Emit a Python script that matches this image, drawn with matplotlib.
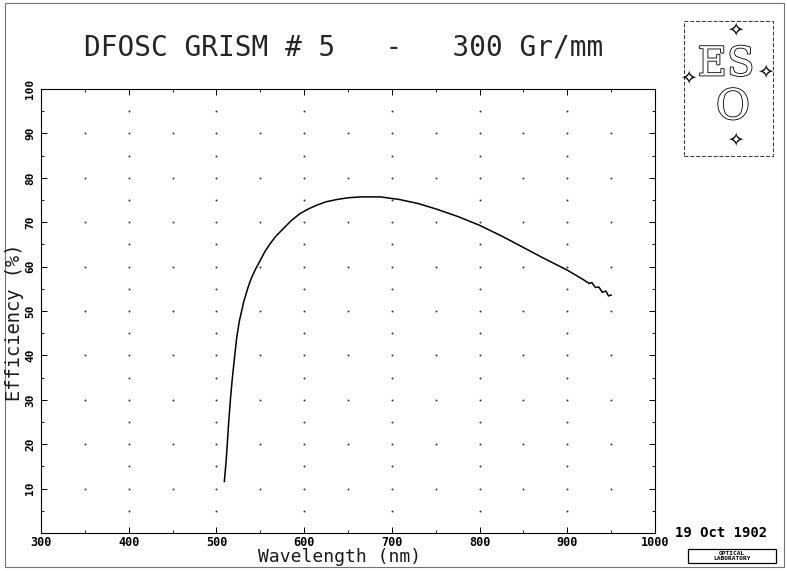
import numpy as np
import matplotlib.pyplot as plt
import matplotlib.patheffects as pe
from matplotlib.patches import Rectangle

# efficiency curve
wavelength = [509, 511, 512.5, 514, 516, 518, 520.5, 523, 526, 531, 536, 540,
              545, 550, 555, 561, 568, 576, 585, 595, 605, 614, 625, 637, 650,
              664, 687, 709, 730, 750, 775, 800, 825, 850, 870, 900, 918, 925,
              928, 932, 936, 940, 944, 947, 950]
efficiency = [11.6, 16.0, 20.4, 25.0, 30.2, 34.6, 39.3, 43.8, 47.6, 52.0, 55.3,
              57.5, 59.6, 61.4, 63.3, 65.1, 66.9, 68.5, 70.3, 71.9, 73.0, 73.8,
              74.6, 75.1, 75.5, 75.7, 75.7, 75.1, 74.2, 73.0, 71.3, 69.3, 66.9,
              64.3, 62.2, 59.2, 57.1, 56.2, 56.4, 55.3, 55.4, 54.2, 54.5, 53.4,
              53.6]

x_ticks = [300, 400, 500, 600, 700, 800, 900, 1000]
y_ticks = [10, 20, 30, 40, 50, 60, 70, 80, 90, 100]

mono = 'DejaVu Sans Mono'
W, H = 787, 571

fig = plt.figure(figsize=(W / 100, H / 100), dpi=100)
ax = fig.add_axes([41 / W, 38 / H, 614 / W, 444 / H])
ax.set_xlim(300, 1000)
ax.set_ylim(0, 100)

# dotted grid (dots at the tick crossings)
for gx in np.arange(300, 1001, 50):
    step = 5 if gx % 100 == 0 else 10
    gy = np.arange(step, 100, step)
    ax.scatter(np.full(len(gy), gx), gy, s=2, color='0.2', lw=0, zorder=1)

ax.plot(wavelength, efficiency, color='black', lw=1.1, zorder=3)

ax.set_xticks(x_ticks)
ax.set_xticks(np.arange(350, 1000, 100), minor=True)
ax.set_yticks(y_ticks)
ax.set_yticks(np.arange(5, 100, 10), minor=True)
ax.tick_params(which='both', direction='in', top=True, right=True, color='black')
ax.tick_params(which='major', length=4, width=0.7)
ax.tick_params(which='minor', length=2.5, width=0.6)
ax.set_xticklabels([str(v) for v in x_ticks], fontfamily=mono,
                   fontweight='bold', fontsize=8.5)
ax.set_yticklabels([str(v) for v in y_ticks], fontfamily=mono,
                   fontweight='bold', fontsize=8, rotation=90, va='center')
ax.tick_params(axis='x', pad=2)
ax.tick_params(axis='y', pad=4)
for s in ax.spines.values():
    s.set_linewidth(0.8)

fig.text(340 / W, 1 - 557 / H, 'Wavelength (nm)', fontfamily=mono,
         fontsize=13, ha='center', va='center', color='0.1')
fig.text(15 / W, 1 - 322 / H, 'Efficiency (%)', fontfamily=mono, fontsize=13.5,
         rotation=90, ha='center', va='center', color='0.1')

# title
fig.text(344 / W, 1 - 47 / H, 'DFOSC GRISM # 5   -   300 Gr/mm',
         fontfamily=mono, fontsize=20, ha='center', va='center', color='0.15')

# ESO logo box
fig.add_artist(Rectangle((684 / W, 1 - 156 / H), 89 / W, 135 / H,
                         transform=fig.transFigure, fill=False,
                         ls=(0, (4, 2)), lw=0.7, color='0.2'))
outline = [pe.withStroke(linewidth=1.2, foreground='black')]
fig.text(726 / W, 1 - 65 / H, 'ES', fontfamily='DejaVu Serif', fontsize=29,
         color='white', ha='center', va='center', path_effects=outline)
fig.text(733 / W, 1 - 107 / H, 'O', fontfamily='DejaVu Serif', fontsize=30,
         color='white', ha='center', va='center', path_effects=outline)
for sx, sy in [(735, 30), (688, 78), (765, 72), (735, 140)]:
    fig.text(sx / W, 1 - sy / H, '\u2727', fontfamily='DejaVu Sans',
             fontsize=14, ha='center', va='center')

# date and lab stamp
fig.text(721 / W, 1 - 533 / H, '19 Oct 1902', fontfamily=mono,
         fontweight='bold', fontsize=10, ha='center', va='center')
fig.add_artist(Rectangle((688 / W, 1 - 563 / H), 88 / W, 14 / H,
                         transform=fig.transFigure, fill=False, lw=0.9,
                         color='black'))
fig.text(732 / W, 1 - 556 / H, 'OPTICAL\nLABORATORY', fontfamily=mono,
         fontweight='bold', fontsize=4.5, ha='center', va='center',
         linespacing=0.8)

# scanned page border
fig.add_artist(Rectangle((5 / W, 4 / H), 779 / W, 564 / H,
                         transform=fig.transFigure, fill=False, lw=0.8,
                         color='0.45'))

fig.savefig('out.png', dpi=100)
